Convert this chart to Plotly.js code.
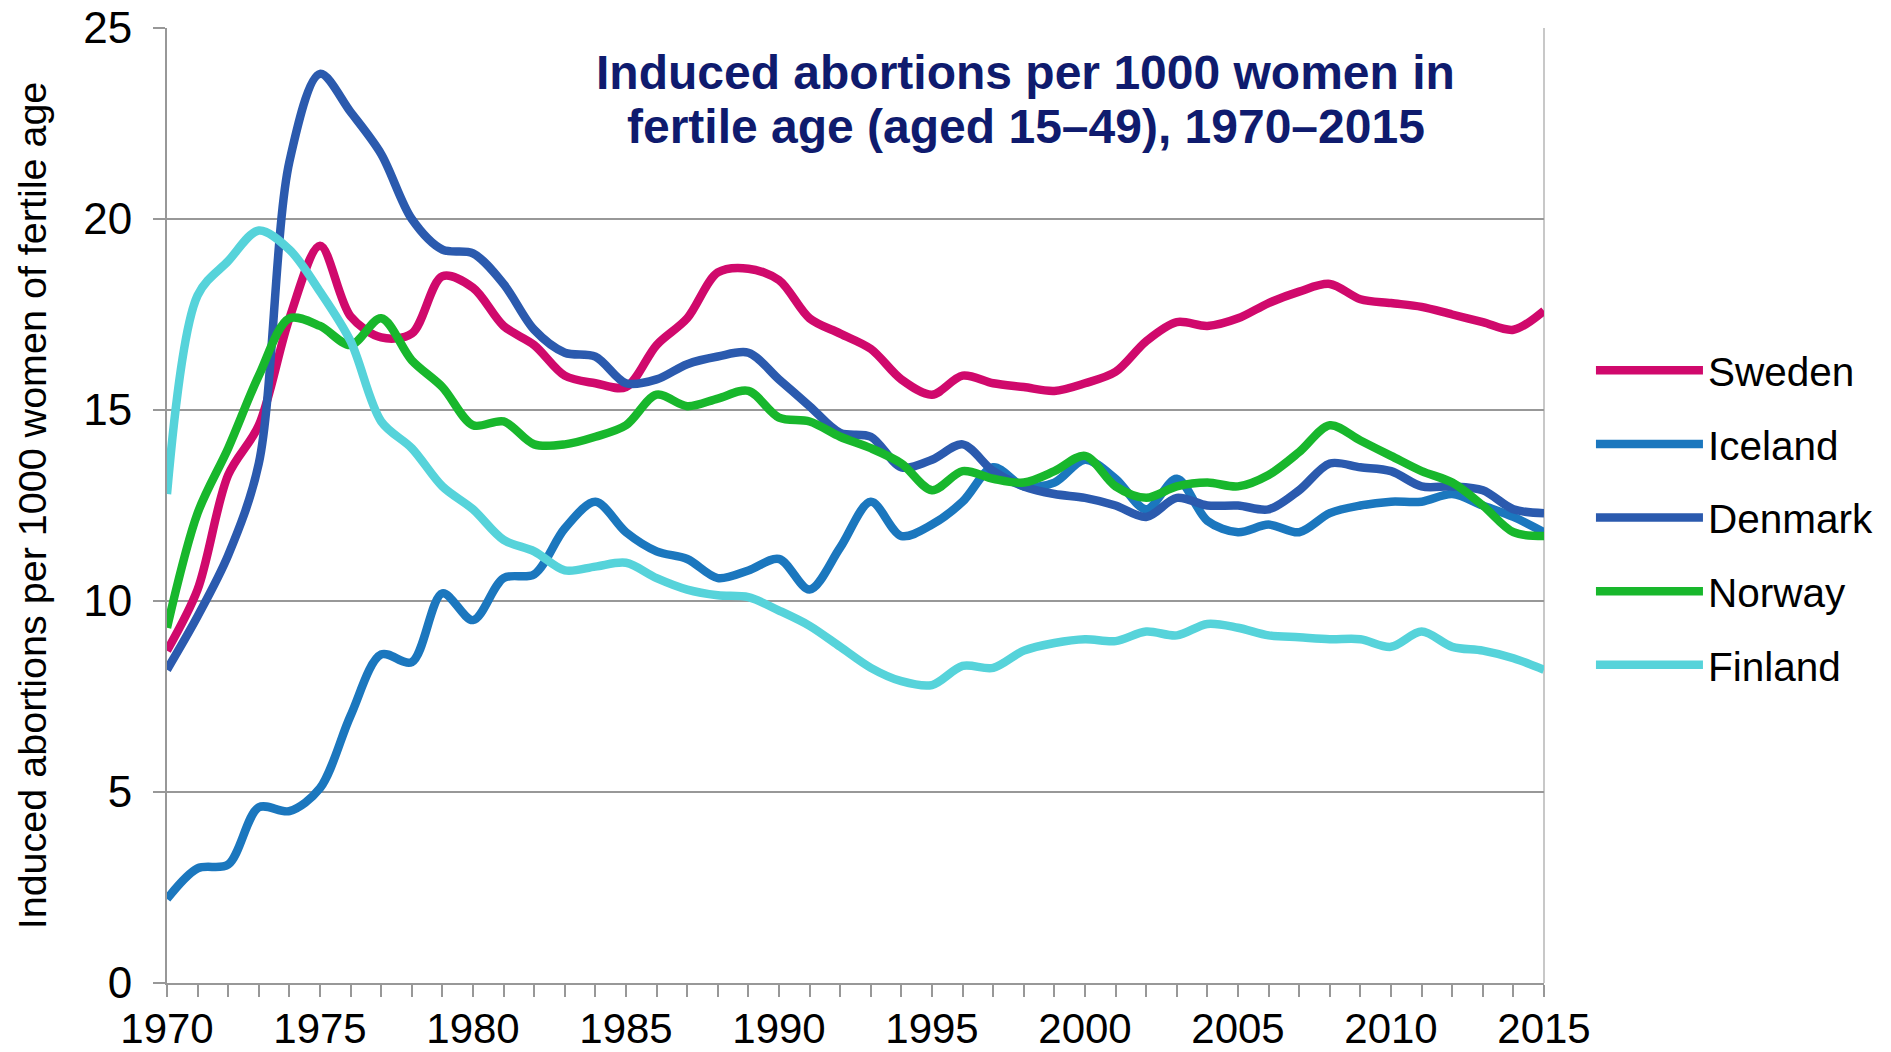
<!DOCTYPE html>
<html>
<head>
<meta charset="utf-8">
<script src="https://cdn.plot.ly/plotly-3.0.1.min.js"></script>
<style>
  html, body { margin: 0; padding: 0; background: #ffffff; }
  #chart { width: 1891px; height: 1052px; }
</style>
</head>
<body>
<div id="chart"></div>
<script>
// ---- data ----
const years = [1970,1971,1972,1973,1974,1975,1976,1977,1978,1979,
               1980,1981,1982,1983,1984,1985,1986,1987,1988,1989,
               1990,1991,1992,1993,1994,1995,1996,1997,1998,1999,
               2000,2001,2002,2003,2004,2005,2006,2007,2008,2009,
               2010,2011,2012,2013,2014,2015];

const sweden  = [8.7,10.3,13.3,14.6,17.4,19.3,17.45,16.9,17.0,18.5,
                 18.2,17.2,16.7,15.9,15.7,15.6,16.7,17.4,18.6,18.7,
                 18.4,17.4,17.0,16.6,15.8,15.4,15.9,15.7,15.6,15.5,
                 15.7,16.0,16.8,17.3,17.2,17.4,17.8,18.1,18.3,17.9,
                 17.8,17.7,17.5,17.3,17.1,17.6];

const iceland = [2.2,3.0,3.1,4.6,4.5,5.1,7.0,8.6,8.4,10.2,
                 9.5,10.6,10.7,11.9,12.6,11.8,11.3,11.1,10.6,10.8,
                 11.1,10.3,11.4,12.6,11.7,12.0,12.6,13.5,13.0,13.1,
                 13.7,13.2,12.4,13.2,12.1,11.8,12.0,11.8,12.3,12.5,
                 12.6,12.6,12.8,12.5,12.2,11.8];

const denmark = [8.2,9.6,11.2,13.6,21.5,23.8,22.8,21.7,20.0,19.2,
                 19.1,18.3,17.1,16.5,16.4,15.7,15.8,16.2,16.4,16.5,
                 15.8,15.1,14.4,14.3,13.5,13.7,14.1,13.4,13.0,12.8,
                 12.7,12.5,12.2,12.7,12.5,12.5,12.4,12.9,13.6,13.5,
                 13.4,13.0,13.0,12.9,12.4,12.3];

const norway  = [9.3,12.3,14.0,15.9,17.4,17.2,16.7,17.4,16.3,15.6,
                 14.6,14.7,14.1,14.1,14.3,14.6,15.4,15.1,15.3,15.5,
                 14.8,14.7,14.3,14.0,13.6,12.9,13.4,13.2,13.1,13.4,
                 13.8,13.0,12.7,13.0,13.1,13.0,13.3,13.9,14.6,14.2,
                 13.8,13.4,13.1,12.5,11.8,11.7];

const finland = [12.8,18.0,18.9,19.7,19.2,18.1,16.8,14.7,14.0,13.0,
                 12.4,11.6,11.3,10.8,10.9,11.0,10.6,10.3,10.15,10.1,
                 9.75,9.35,8.8,8.25,7.9,7.8,8.3,8.25,8.7,8.9,
                 9.0,8.95,9.2,9.1,9.4,9.3,9.1,9.05,9.0,9.0,
                 8.8,9.2,8.8,8.7,8.5,8.2];

const seriesNames  = ["Sweden","Iceland","Denmark","Norway","Finland"];
const seriesValues = [sweden, iceland, denmark, norway, finland];
const seriesColors = ["#D0096C","#1B77BE","#2B5AAE","#18B72C","#56D3DA"];

const titleLine1 = "Induced abortions per 1000 women in";
const titleLine2 = "fertile age (aged 15\u201349), 1970\u20132015";
const yTitle = "Induced abortions per 1000 women of fertile age";

// ---- traces ----
const FONT = "Liberation Sans, Arial, sans-serif";
const traces = seriesNames.map((name, i) => ({
  type: "scatter",
  mode: "lines",
  name: name,
  x: years,
  y: seriesValues[i],
  legendgroup: name,
  line: { color: seriesColors[i], width: 8.5, shape: "spline", smoothing: 0.9 },
  hoverinfo: "x+y+name"
}));

const gridGrey = "#989898";

const layout = {
  width: 1891,
  height: 1052,
  paper_bgcolor: "#ffffff",
  plot_bgcolor: "#ffffff",
  margin: { l: 167, r: 347, t: 28, b: 69, pad: 0 },
  font: { family: FONT, color: "#000000", size: 42 },
  showlegend: true,
  legend: {
    x: 1.0341, xanchor: "left",
    y: 0.676, yanchor: "top",
    font: { family: FONT, size: 40.5, color: "#000000" },
    itemwidth: 107,
    tracegroupgap: 18,
    traceorder: "grouped",
    bgcolor: "rgba(0,0,0,0)",
    borderwidth: 0
  },
  xaxis: {
    range: [1970, 2015],
    tickmode: "linear", tick0: 1970, dtick: 5,
    ticks: "outside", ticklen: 12, tickwidth: 2, tickcolor: gridGrey,
    ticklabelstandoff: -4,
    showline: true, linecolor: gridGrey, linewidth: 2,
    showgrid: false, zeroline: false,
    tickfont: { family: FONT, size: 42, color: "#000000" },
    minor: { dtick: 1, tick0: 1970, ticks: "outside", ticklen: 12, tickwidth: 2, tickcolor: gridGrey, showgrid: false },
    fixedrange: true
  },
  yaxis: {
    range: [0, 25],
    tickmode: "linear", tick0: 0, dtick: 5,
    ticks: "outside", ticklen: 12, tickwidth: 2, tickcolor: gridGrey,
    ticklabelstandoff: 12,
    showline: true, linecolor: gridGrey, linewidth: 2,
    showgrid: true, gridcolor: gridGrey, gridwidth: 2,
    zeroline: false,
    tickfont: { family: FONT, size: 44, color: "#000000" },
    title: { text: yTitle, font: { family: FONT, size: 39.5, color: "#000000" }, standoff: 24 },
    automargin: false,
    fixedrange: true
  },
  shapes: [
    { type: "line", xref: "paper", yref: "paper", x0: 1, x1: 1, y0: 0, y1: 1,
      line: { color: "#c8c8c8", width: 2 }, layer: "below" }
  ],
  annotations: [
    { text: "<b>" + titleLine1 + "</b>", xref: "paper", yref: "paper",
      x: 0.6238, y: 0.9535, xanchor: "center", yanchor: "middle", showarrow: false,
      font: { family: FONT, size: 48, color: "#0F1B6E" } },
    { text: "<b>" + titleLine2 + "</b>", xref: "paper", yref: "paper",
      x: 0.6238, y: 0.8965, xanchor: "center", yanchor: "middle", showarrow: false,
      font: { family: FONT, size: 48, color: "#0F1B6E" } }
  ]
};

Plotly.newPlot("chart", traces, layout, { staticPlot: true, displayModeBar: false });
</script>
</body>
</html>
